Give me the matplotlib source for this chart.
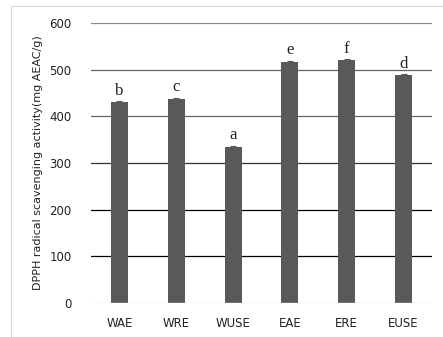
import matplotlib.pyplot as plt
from matplotlib.patches import Rectangle

extracts = ["WAE", "WRE", "WUSE", "EAE", "ERE", "EUSE"]
dpph = [430, 438, 334, 517, 520, 488]
errors = [2, 2, 2, 2, 2, 2]
letters = ["b", "c", "a", "e", "f", "d"]

fig = plt.figure(figsize=(4.43, 3.37), dpi=100)
ax = fig.add_axes([91 / 443, 1 - 303 / 337, 341 / 443, 280 / 337])

# light frame around the chart area
fig.patches.append(Rectangle((11 / 443, 0), 1, 1 - 6 / 337, transform=fig.transFigure,
                             fill=False, edgecolor="#d9d9d9", linewidth=0.8))

x = range(len(extracts))
ax.bar(x, dpph, width=0.3, color="#595959", zorder=3,
       yerr=errors, error_kw=dict(ecolor="#595959", capsize=2, elinewidth=0.8, capthick=0.8))

for xi, v, e, lab in zip(x, dpph, errors, letters):
    ax.text(xi, v + e + 6, lab, ha="center", va="bottom",
            family="Liberation Serif", fontsize=12, color="#222222")

ax.set_xlim(-0.5, 5.5)
ax.set_ylim(0, 600)
ax.set_yticks(range(0, 601, 100))
ax.set_xticks(list(x))
ax.set_xticklabels(extracts)

# gridlines drawn by hand so each one can take its own shade
shades = {100: "black", 200: "black", 300: "#333333", 400: "#666666", 500: "#666666", 600: "#888888"}
for y, c in shades.items():
    ax.axhline(y, color=c, linewidth=0.9, zorder=1)
ax.axhline(0, color="#d9d9d9", linewidth=1.0, zorder=4)

for s in ax.spines.values():
    s.set_visible(False)
ax.tick_params(length=0, labelsize=8.5, colors="#222222")
ax.tick_params(axis="y", pad=14)
ax.tick_params(axis="x", pad=10)
ax.set_ylabel("DPPH radical scavenging activity(mg AEAC/g)", fontsize=8, color="#222222")
ax.yaxis.set_label_coords(-0.14, 0.5)

fig.savefig("out.png", dpi=100)
